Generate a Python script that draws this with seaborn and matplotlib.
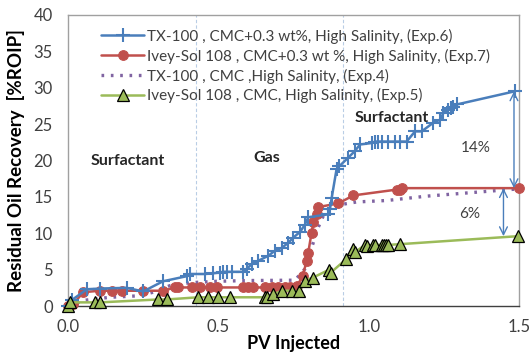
import matplotlib
matplotlib.use("Agg")
import matplotlib.pyplot as plt
import seaborn as sns
import pandas as pd

sns.set_theme(style="white")
plt.rcParams['font.family'] = ['Lato', 'DejaVu Sans']

# Data
blue_x = [0.0, 0.012, 0.063, 0.106, 0.195, 0.25, 0.316, 0.395, 0.405, 0.456, 0.483, 0.505, 0.515, 0.53, 0.545,
          0.582, 0.594, 0.611, 0.632, 0.666, 0.688, 0.711, 0.733, 0.749, 0.772, 0.788, 0.799, 0.865, 0.871,
          0.877, 0.893, 0.902, 0.932, 0.954, 0.971, 1.01, 1.021, 1.03, 1.043, 1.065, 1.087, 1.104, 1.126,
          1.154, 1.176, 1.215, 1.237, 1.248, 1.265, 1.272, 1.281, 1.293, 1.485]
blue_y = [0.0, 0.8, 2.3, 2.4, 2.5, 2.0, 3.4, 4.1, 4.4, 4.4, 4.5, 4.6, 4.7, 4.7, 4.7,
          4.7, 5.1, 5.75, 6.2, 6.9, 7.6, 8.0, 8.7, 9.4, 10.2, 11.2, 12.2, 12.6, 13.3,
          14.9, 18.8, 19.2, 20.4, 21.3, 22.2, 22.4, 22.6, 22.6, 22.6, 22.6, 22.6, 22.6, 22.6,
          24.0, 24.0, 25.2, 25.6, 26.5, 27.0, 27.2, 27.4, 27.7, 29.5]

red_x = [0.0, 0.018, 0.051, 0.106, 0.145, 0.179, 0.25, 0.317, 0.356, 0.367, 0.411, 0.439, 0.472, 0.494,
         0.583, 0.6, 0.616, 0.655, 0.677, 0.699, 0.722, 0.738, 0.763, 0.78, 0.794, 0.799, 0.81, 0.816,
         0.827, 0.832, 0.899, 0.949, 1.093, 1.104, 1.11, 1.5]
red_y = [0.0, 0.3, 1.9, 2.1, 2.1, 2.1, 2.1, 2.1, 2.55, 2.55, 2.55, 2.55, 2.55, 2.55,
         2.55, 2.55, 2.55, 2.55, 2.55, 2.55, 2.55, 2.55, 2.8, 4.15, 6.2, 7.35, 10.1, 11.5,
         12.6, 13.6, 14.1, 15.2, 16.0, 16.0, 16.2, 16.2]

purple_x = [0.0, 0.057, 0.14, 0.234, 0.284, 0.339, 0.406, 0.495, 0.6, 0.755, 0.788, 0.8, 0.81, 0.821,
            0.832, 0.849, 0.871, 0.916, 0.96, 1.06, 1.193, 1.437, 1.5]
purple_y = [0.0, 0.8, 1.2, 1.4, 1.9, 2.8, 3.2, 3.4, 3.5, 3.55, 5.1, 6.4, 8.0, 9.4,
            10.8, 12.4, 13.5, 14.0, 14.3, 14.5, 15.1, 15.9, 16.1]

green_x = [0.0, 0.007, 0.09, 0.106, 0.3, 0.328, 0.433, 0.467, 0.5, 0.539, 0.655, 0.661, 0.683, 0.711,
           0.744, 0.769, 0.788, 0.814, 0.869, 0.874, 0.924, 0.949, 0.954, 0.988, 0.995, 1.013, 1.021,
           1.043, 1.051, 1.058, 1.065, 1.104, 1.497]
green_y = [0.0, 0.5, 0.5, 0.5, 0.9, 0.9, 1.2, 1.2, 1.2, 1.2, 1.2, 1.3, 1.6, 2.1,
           2.1, 2.0, 3.5, 3.9, 5.0, 4.6, 6.4, 7.8, 7.4, 8.4, 8.2, 8.4, 8.4,
           8.4, 8.4, 8.4, 8.4, 8.5, 9.6]

labels = ["TX-100 , CMC+0.3 wt%, High Salinity, (Exp.6)",
          "Ivey-Sol 108 , CMC+0.3 wt %, High Salinity, (Exp.7)",
          "TX-100 , CMC ,High Salinity, (Exp.4)",
          "Ivey-Sol 108 , CMC, High Salinity, (Exp.5)"]

phase_lines = [0.425, 0.915]
gap_top = [29.5, 16.2]
gap_bottom = [16.2, 9.6]
gap_labels = ["14%", "6%"]

fig = plt.figure(figsize=(5.29, 3.56), dpi=100)
ax = fig.add_axes([0.1285, 0.1404, 0.9813 - 0.1285, 0.958 - 0.1404])

blue = "#4A7EBB"
red = "#C0504D"
purple = "#8064A2"
green = "#9BBB59"

for xv in phase_lines:
    ax.axvline(xv, color="#B9CDE5", lw=0.8, ls=(0, (3, 2)), zorder=0)

def df(x, y):
    return pd.DataFrame({"x": x, "y": y})

sns.lineplot(data=df(blue_x, blue_y), x="x", y="y", ax=ax, sort=False, estimator=None,
             color=blue, lw=1.8, marker="+", markersize=10, markeredgewidth=1.5,
             markeredgecolor=blue, label=labels[0], clip_on=False, zorder=4)
sns.lineplot(data=df(red_x, red_y), x="x", y="y", ax=ax, sort=False, estimator=None,
             color=red, lw=1.8, marker="o", markersize=7, markeredgecolor=red,
             markerfacecolor=red, label=labels[1], clip_on=False, zorder=3)
sns.lineplot(data=df(purple_x, purple_y), x="x", y="y", ax=ax, sort=False, estimator=None,
             color=purple, lw=2.4, ls=(0, (0.8, 2.0)), label=labels[2], clip_on=False, zorder=2)
sns.lineplot(data=df(green_x, green_y), x="x", y="y", ax=ax, sort=False, estimator=None,
             color=green, lw=1.8, marker="^", markersize=8.5, markeredgecolor="black",
             markeredgewidth=0.9, markerfacecolor=green, label=labels[3], clip_on=False, zorder=5)

ax.set_xlim(0, 1.5)
ax.set_ylim(0, 40)
ax.set_xticks([0.0, 0.5, 1.0, 1.5])
ax.set_xticklabels(["0.0", "0.5", "1.0", "1.5"])
ax.set_yticks(range(0, 41, 5))
ax.tick_params(axis="both", length=0, labelsize=12, colors="#404040")
ax.tick_params(axis="y", pad=11)
ax.tick_params(axis="x", pad=9)
for s in ax.spines.values():
    s.set_color("#A0A0A0")
    s.set_linewidth(1.0)
ax.spines["bottom"].set_color("#404040")

ax.set_xlabel("PV Injected", fontsize=13, fontweight="bold", color="black", labelpad=0)
ax.set_ylabel("Residual Oil Recovery  [%ROIP]", fontsize=13.5, fontweight="bold", color="black", labelpad=6)

# arrows
arrow_x = [1.483, 1.448]
for xa, yt, yb in zip(arrow_x, gap_top, gap_bottom):
    ax.annotate("", xy=(xa, yb), xytext=(xa, yt),
                arrowprops=dict(arrowstyle="<->", color=blue, lw=1.0, shrinkA=0, shrinkB=0,
                                mutation_scale=14))
ax.text(1.357, 21.7, gap_labels[0], fontsize=11, color="#404040", ha="center", va="center")
ax.text(1.337, 12.6, gap_labels[1], fontsize=11, color="#404040", ha="center", va="center")

ax.text(0.2, 19.9, "Surfactant", fontsize=11.5, fontweight="bold", ha="center", va="center")
ax.text(0.66, 20.3, "Gas", fontsize=11.5, fontweight="bold", ha="center", va="center")
ax.text(1.076, 25.8, "Surfactant", fontsize=11.5, fontweight="bold", ha="center", va="center")

leg = ax.legend(loc="upper left", bbox_to_anchor=(0.05, 0.99), frameon=False, fontsize=11,
                handlelength=2.8, handletextpad=0.2, labelspacing=0.32, borderaxespad=0.3)
for t in leg.get_texts():
    t.set_color("#404040")

fig.savefig("out.png", dpi=100)
